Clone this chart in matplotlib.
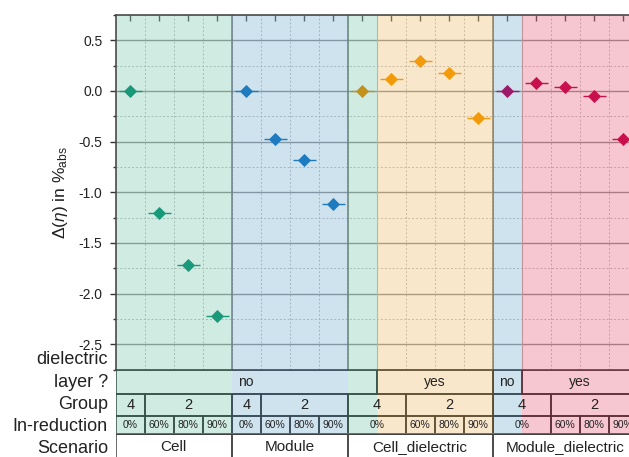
import numpy as np
import matplotlib.pyplot as plt
from matplotlib.patches import Rectangle
from matplotlib import transforms
from matplotlib.ticker import FormatStrFormatter

plt.rcParams['font.family'] = 'Liberation Sans'
plt.rcParams['mathtext.fontset'] = 'custom'
plt.rcParams['mathtext.rm'] = 'Liberation Sans'
plt.rcParams['mathtext.it'] = 'Liberation Sans:italic'
plt.rcParams['axes.unicode_minus'] = False

# change of efficiency for each scenario / In-reduction step
cell = [0.0, -1.20, -1.72, -2.22]
module = [0.0, -0.47, -0.68, -1.12]
cell_dielectric = [0.0, 0.12, 0.30, 0.18, -0.27]
module_dielectric = [0.0, 0.08, 0.04, -0.05, -0.47]
x_err = 0.4

# table below the plot: (label, number of columns it covers)
dielectric_cells = [('no', 9), ('yes', 4), ('no', 1), ('yes', 4)]
group_cells = [('4', 1), ('2', 3), ('4', 1), ('2', 3),
               ('4', 2), ('2', 3), ('4', 2), ('2', 3)]
reduction_cells = ([('0%', 1), ('60%', 1), ('80%', 1), ('90%', 1)] * 2
                   + [('0%', 2), ('60%', 1), ('80%', 1), ('90%', 1)] * 2)
scenario_cells = [('Cell', 4), ('Module', 4), ('Cell_dielectric', 5), ('Module_dielectric', 5)]
row_labels = ['dielectric', 'layer ?', 'Group', 'In-reduction', 'Scenario']

values = cell + module + cell_dielectric + module_dielectric
marker_colors = (['#18997a'] * 4 + ['#1f7bbf'] * 4 + ['#c4921c'] + ['#f39a0c'] * 4
                 + ['#9c1a6a'] + ['#c8104e'] * 4)
shade_colors = (['#8acdb4'] * 4 + ['#87b9d9'] * 4 + ['#8acdb4'] + ['#f2c57d'] * 4
                + ['#87b9d9'] + ['#ed758c'] * 4)

n = len(values)
x = np.arange(1, n + 1)
dark = '#222222'

fig = plt.figure(figsize=(6.29, 4.57), dpi=100)
ax = fig.add_axes([115.7 / 629, 87.5 / 457, 522 / 629, 354.5 / 457])
tab = fig.add_axes([115.7 / 629, 0, 522 / 629, 87.5 / 457])

# runs of equal shading
runs = []
start = 0
for i in range(1, n + 1):
    if i == n or shade_colors[i] != shade_colors[start]:
        runs.append((start + 0.5, i + 0.5, shade_colors[start]))
        start = i

# ---- main plot ----
ax.set_xlim(0.5, n + 0.5)
ax.set_ylim(-2.75, 0.75)
ax.set_yticks(np.arange(-2.5, 0.51, 0.5))
ax.set_yticks(np.arange(-2.75, 0.76, 0.25), minor=True)
ax.yaxis.set_major_formatter(FormatStrFormatter('%.1f'))
ax.set_xticks(x)
ax.set_xticks(np.arange(1.5, n, 1), minor=True)
ax.set_axisbelow(True)
ax.grid(axis='y', which='major', color='#808080', lw=1)
ax.grid(axis='y', which='minor', color='#b4b4b4', lw=0.7, ls=(0, (2, 2)))
ax.grid(axis='x', which='minor', color='#b4b4b4', lw=0.7, ls=(0, (2, 2)))

ax.tick_params(axis='x', which='major', bottom=False, top=True, labelbottom=False,
               direction='in', length=4.5, width=1, color='#333333')
ax.tick_params(axis='x', which='minor', bottom=False, top=False, length=0)
ax.tick_params(axis='y', which='major', direction='out', length=4.5, width=1,
               color='#333333', labelsize=10, labelcolor=dark, pad=5)
ax.tick_params(axis='y', which='minor', direction='out', length=2.5, width=1, color='#333333')
for side in ['top', 'left', 'bottom']:
    ax.spines[side].set_color('#4a4a4a')
    ax.spines[side].set_linewidth(1.2)
ax.spines['right'].set_visible(False)

# scenario separators and shading edges
edges = np.cumsum([s for _, s in scenario_cells])[:-1] + 0.5
for e in edges:
    ax.axvline(e, color='#555555', lw=1.1, zorder=1)
for x0, x1, c in runs[1:]:
    if x0 not in edges:
        ax.axvline(x0, color='#a8a8a8', lw=0.8, zorder=1)

for x0, x1, c in runs:
    ax.axvspan(x0, x1, color=c, alpha=0.4, lw=0, zorder=1.5)

for xi, yi, c in zip(x, values, marker_colors):
    ax.errorbar(xi, yi, xerr=x_err, fmt='D', color=c, ms=6.5, mew=0.6,
                elinewidth=1, capsize=0, zorder=3)

ax.set_ylabel(r'$\mathit{\Delta}(\mathit{\eta})$ in %$_{\mathrm{abs}}$', fontsize=12.5, color=dark)
ax.yaxis.set_label_coords(-0.088, 0.5)

# ---- table ----
tab.set_xlim(0.5, n + 0.5)
tab.set_ylim(87.5, 0)
tab.axis('off')

row_edges = [0, 24.8, 46.5, 64.5, 100]


def draw_row(cells, y0, y1, ytext, size, edge):
    left = 0.5
    for label, span in cells:
        tab.add_patch(Rectangle((left, y0), span, y1 - y0, fill=False, ec=edge, lw=1.1, zorder=1))
        tab.text(left + span / 2, ytext, label, ha='center', va='center',
                 fontsize=size, color=dark, zorder=3)
        left += span


draw_row(dielectric_cells, row_edges[0], row_edges[1], 12.6, 10, '#000000')
draw_row(group_cells, row_edges[1], row_edges[2], 35.8, 10.5, '#000000')
draw_row(reduction_cells, row_edges[2], row_edges[3], 55.6, 7.5, '#000000')
draw_row(scenario_cells, row_edges[3], row_edges[4], 77.5, 11, '#444444')

for x0, x1, c in runs:
    tab.add_patch(Rectangle((x0, row_edges[0]), x1 - x0, row_edges[3] - row_edges[0],
                            color=c, alpha=0.4, lw=0, zorder=2))

trans = transforms.blended_transform_factory(tab.transAxes, tab.transData)
for i, label in enumerate(row_labels):
    tab.text(-0.015, -9.5 + 22.2 * i, label, transform=trans, ha='right', va='center',
             fontsize=13, color=dark, clip_on=False)

fig.savefig('out.png', dpi=100)
